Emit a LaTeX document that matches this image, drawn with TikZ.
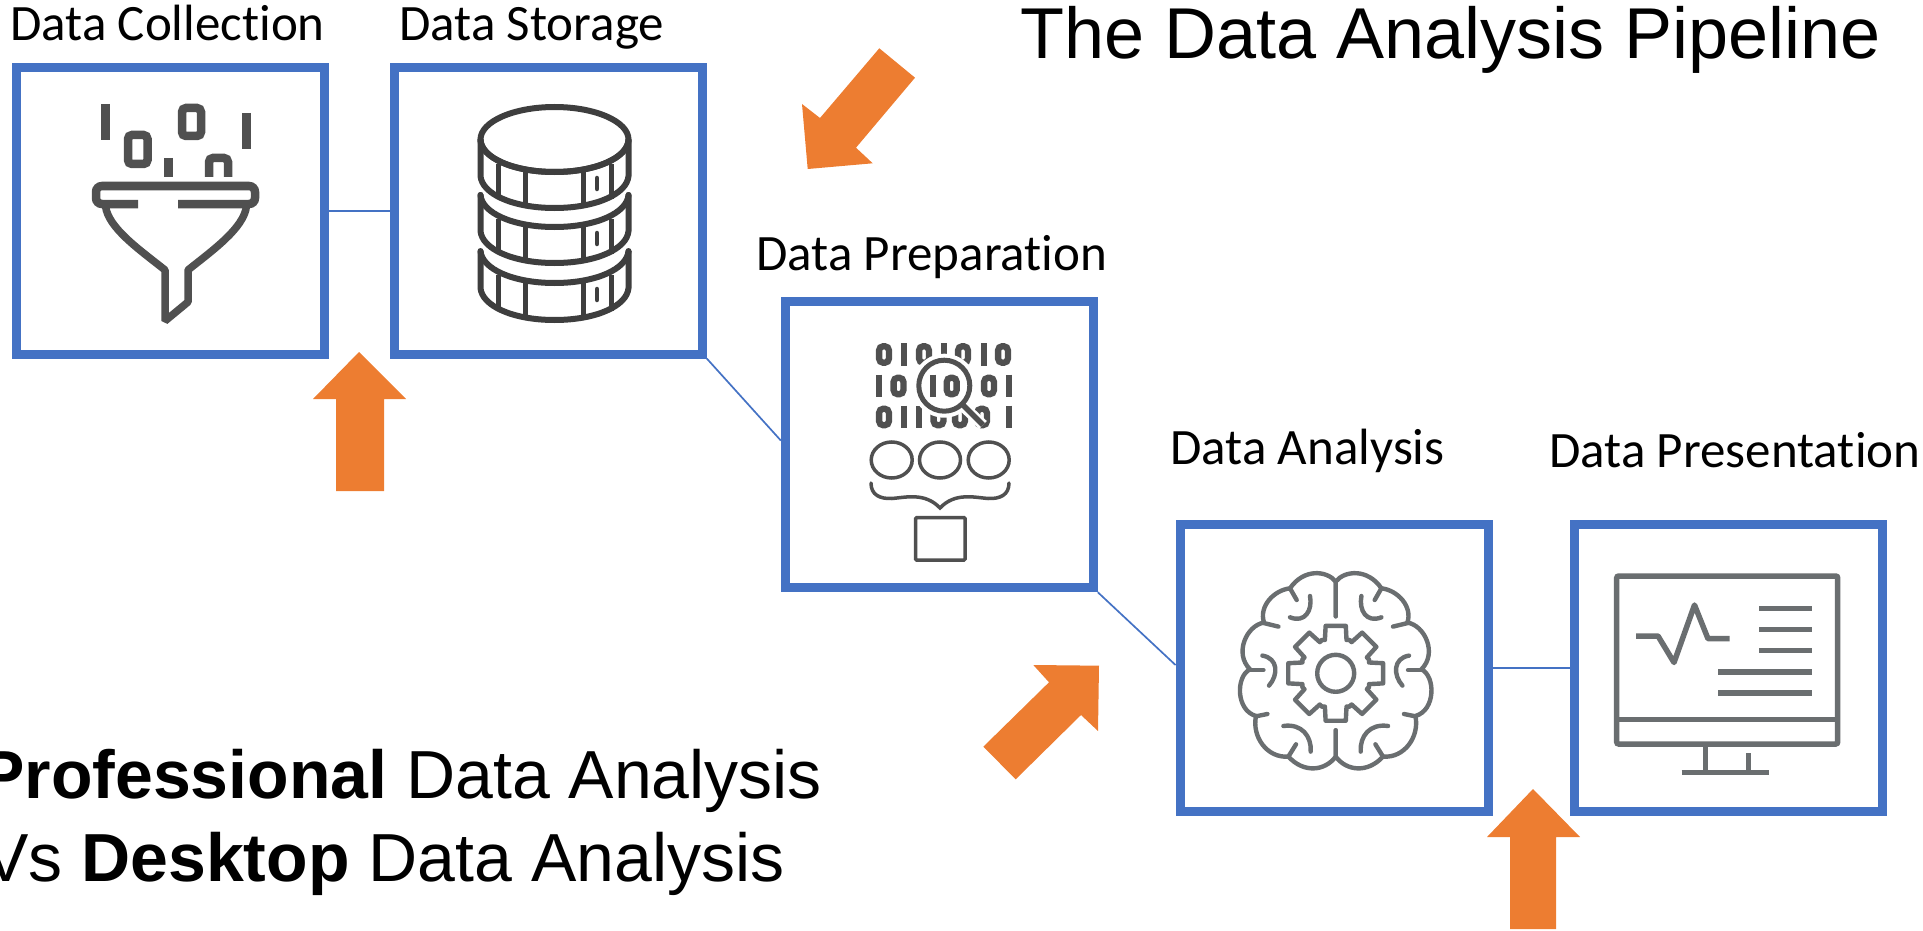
\documentclass[tikz,border=0pt]{standalone}
\usepackage{fontspec}
\setmainfont{Carlito}[Ligatures=NoCommon]
\newfontfamily\titlefont{Liberation Sans}
\usetikzlibrary{positioning}
\definecolor{boxblue}{RGB}{68,114,196}
\definecolor{arroworange}{RGB}{237,125,49}
\definecolor{icondark}{RGB}{62,62,62}
\definecolor{icongray}{RGB}{80,80,80}
\definecolor{iconslate}{RGB}{106,110,112}

\tikzset{
  stagebox/.style={draw=boxblue,line width=9pt,fill=white,minimum width=308pt,minimum height=286.5pt,inner sep=0pt},
  stagelabel/.style={font=\fontsize{51}{51}\selectfont,anchor=base west,inner sep=0pt,text=black},
  bigtitle/.style={font=\titlefont\fontsize{72}{72}\selectfont,anchor=base west,inner sep=0pt,text=black},
  lowtitle/.style={bigtitle,font=\titlefont\fontsize{68}{68}\selectfont},
  link/.style={draw=boxblue,line width=1.7pt},
  bigarrow/.style={fill=arroworange},
  bit/.style={icongray,line width=6.3pt,rounded corners=4pt},
  brainline/.style={iconslate,line width=4.4pt,line cap=round,line join=round},
  screenline/.style={iconslate,line width=5.5pt}
}
\newcommand{\bitzero}[2]{\draw[bit] (#1-4.9,#2-8.2) rectangle (#1+4.9,#2+8.2);}
\newcommand{\bitone}[2]{\draw[icongray,line width=6pt] (#1,#2-11.3) -- (#1,#2+11.3);}

\begin{document}
\begin{tikzpicture}[x=1pt,y=-1pt]
  \useasboundingbox (0,0) rectangle (1923,931);

  \node[stagebox] (collection) at (170.2,210.8) {};
  \node[stagebox] (storage) at (548.3,210.8) {};
  \node[stagebox] (preparation) at (939.3,444.5) {};
  \node[stagebox] (analysis) at (1334,668) {};
  \node[stagebox] (presentation) at (1728.5,668) {};

  \draw[link] (collection.east) -- (storage.west);
  \draw[link] (storage.south east) -- ([yshift=4pt]preparation.west);
  \draw[link] (preparation.south east) -- ([yshift=3pt]analysis.west);
  \draw[link] (analysis.east) -- (presentation.west);

  \node[stagelabel] (collectionlabel) at (10,41) {Data Collection};
  \node[stagelabel] (storagelabel) at (399,41) {Data Storage};
  \node[stagelabel] (preparationlabel) at (756,270) {Data Preparation};
  \node[stagelabel] (analysislabel) at (1170,464) {Data Analysis};
  \node[stagelabel] (presentationlabel) at (1549,467) {Data Presentation};

  \node[bigtitle] (pipelinetitle) at (1020,59) {The Data Analysis Pipeline};
  \node[lowtitle] (professionaltitle) at (-21,798) {\textbf{Professional} Data Analysis};
  \node[lowtitle] (desktoptitle) at (-17,881) {Vs \textbf{Desktop} Data Analysis};

  \fill[bigarrow] (359,352) -- (406,399) -- (384,399) -- (384,491) -- (336,491) -- (336,399) -- (313,399) -- cycle;
  \fill[bigarrow] (1533,789) -- (1580,837) -- (1556,837) -- (1556,929) -- (1510,929) -- (1510,837) -- (1487,837) -- cycle;
  \fill[bigarrow] (807.7,169) -- (802,104) -- (820,118) -- (879.3,48.3) -- (915,77.7) -- (856,147.7) -- (872.7,163.3) -- cycle;
  \fill[bigarrow] (1099,665.7) -- (1033.3,665) -- (1049,682.3) -- (983.3,746.7) -- (1015.7,779.3) -- (1081,715) -- (1098,731) -- cycle;

  \draw[icongray,line width=9pt] (105.5,104) -- (105.5,140);
  \draw[icongray,line width=9pt] (246.5,113) -- (246.5,149);
  \draw[icongray,line width=9pt] (168.5,158) -- (168.5,177);
  \draw[bit,line width=8.5pt] (128,135) rectangle (147.5,164);
  \draw[bit,line width=8.5pt] (182,108) rectangle (201,136);
  \draw[icongray,line width=8.5pt,rounded corners=4pt] (209,177) -- (209,158) -- (228,158) -- (228,177);
  \draw[icongray,line width=8.5pt,rounded corners=6pt] (138,204) -- (96,204) -- (96,186) -- (255,186) -- (255,204) -- (178,204);
  \draw[icongray,line width=7.5pt,line join=bevel] (105.5,206) .. controls (108,228) and (140,250) .. (165,270) -- (165,321) -- (188,302) -- (188,270) .. controls (213,250) and (244,228) .. (246.5,206);

  \draw[icondark,line width=6pt] (554.5,139.5) ellipse (74 and 32.5);
  \foreach \top/\low/\cap in {172/208/140,227/263/195,283/320/252} {
    \draw[icondark,line width=6pt,line cap=round] (480.5,\cap) -- (480.5,\top-32) .. controls (482,\top-14) and (513,\top) .. (554.5,\top) .. controls (596,\top) and (627,\top-14) .. (628.5,\top-32) -- (628.5,\cap);
    \draw[icondark,line width=6pt,line cap=round] (480.5,\top-32) -- (480.5,\low-32) .. controls (482,\low-14) and (513,\low) .. (554.5,\low) .. controls (596,\low) and (627,\low-14) .. (628.5,\low-32) -- (628.5,\top-32);
    \draw[icondark,line width=5pt] (498,\top-8) -- (498,\low-9);
    \draw[icondark,line width=5pt] (611,\top-8) -- (611,\low-9);
    \draw[icondark,line width=5pt] (525,\top-2) -- (525,\low-2);
    \draw[icondark,line width=5pt] (583,\top-2) -- (583,\low-2);
    \draw[icondark,line width=4.5pt,line cap=round] (597,\top+6) -- (597,\top+17);
  }

  \foreach \px in {884,924,963,1003} {\bitzero{\px}{354.5}}
  \foreach \px in {904.3,943.5,984} {\bitone{\px}{354.5}}
  \bitone{878.5}{386}
  \bitzero{898.5}{386}
  \bitzero{989}{386}
  \bitone{1009}{386}
  \foreach \px in {884,938.5,960,982} {\bitzero{\px}{417}}
  \foreach \px in {904.3,919,1009} {\bitone{\px}{417}}
  \draw[white,line width=11pt] (963,406) -- (983,425);
  \fill[white] (944.3,385.7) circle (32);
  \draw[icongray,line width=5pt,fill=white] (944.3,385.7) circle (25.5);
  \draw[icongray,line width=5.5pt] (963,405) -- (983,425);
  \bitone{933.3}{386}
  \bitzero{951.7}{386}
  \foreach \px in {891.7,940,988.7} {\draw[icongray,line width=3.5pt] (\px,460) ellipse (20.5 and 18);}
  \draw[icongray,line width=3.5pt,line cap=round] (871,483) .. controls (871,495) and (880,499) .. (892,498.5) .. controls (905,497.5) and (925,492) .. (940,508) .. controls (955,492) and (975,497.5) .. (988,498.5) .. controls (1000,499) and (1009,495) .. (1009,483);
  \draw[icongray,line width=3.5pt,rounded corners=1pt] (915.7,517.7) rectangle (965,560);

  \begin{scope}[shift={(1335.7,673.3)}]
    \foreach \side in {1,-1} {
      \begin{scope}[xscale=\side]
        \draw[brainline] (0,-57) -- (0,-91.7) .. controls (-9,-103) and (-32,-105) .. (-45.7,-85) .. controls (-62,-83) and (-77,-67) .. (-71.7,-50.7) .. controls (-89,-48) and (-102,-20) .. (-85.7,-4) .. controls (-100,3) and (-100,37) .. (-79.7,42.7) .. controls (-84,63) and (-69,85) .. (-47.3,83.3) .. controls (-32,100) and (-11,98) .. (0,83.3) -- (0,57);
        \draw[brainline] (-45.7,-85) -- (-39,-73.3);
        \draw[brainline] (-25.7,-77.3) .. controls (-23,-63) and (-30.7,-50) .. (-45.7,-56);
        \draw[brainline] (-71.7,-50.2) -- (-57.3,-46.7);
        \draw[brainline] (-85.7,-3.3) -- (-72.3,-3.3);
        \draw[brainline] (-73.3,-17.7) .. controls (-57.3,-15) and (-57.3,1.7) .. (-66.7,12.3);
        \draw[brainline] (-79.7,43) -- (-68.3,40.7);
        \draw[brainline] (-52.3,52.7) .. controls (-34,50) and (-24,63) .. (-25,78.3);
        \draw[brainline] (-39.7,71) -- (-47.3,83.3);
      \end{scope}
    }
    \draw[brainline] (0,0) circle (18.5);
    \foreach \a in {0,45,...,315} {
      \draw[brainline] ({\a-22.5}:36) -- ({\a-18}:35) -- ({\a-12}:48.5) -- ({\a+12}:48.5) -- ({\a+18}:35) -- ({\a+22.5}:36);
    }
  \end{scope}

  \draw[screenline,rounded corners=2pt] (1616.7,576) rectangle (1837.7,744);
  \draw[screenline] (1616.7,719.3) -- (1837.7,719.3);
  \draw[screenline] (1705.7,744) -- (1705.7,772.7);
  \draw[screenline] (1748.3,753) -- (1748.3,772.7);
  \draw[screenline] (1681.7,772.7) -- (1769.3,772.7);
  \draw[screenline,line join=round] (1636,636) -- (1658,636) -- (1674,662.5) -- (1694.5,605) -- (1708,638.7) -- (1729.5,638.7);
  \foreach \py in {608.3,629.3,650.7} {\draw[screenline] (1759,\py) -- (1811.7,\py);}
  \foreach \py in {672,693} {\draw[screenline] (1718.3,\py) -- (1811.7,\py);}
\end{tikzpicture}
\end{document}
